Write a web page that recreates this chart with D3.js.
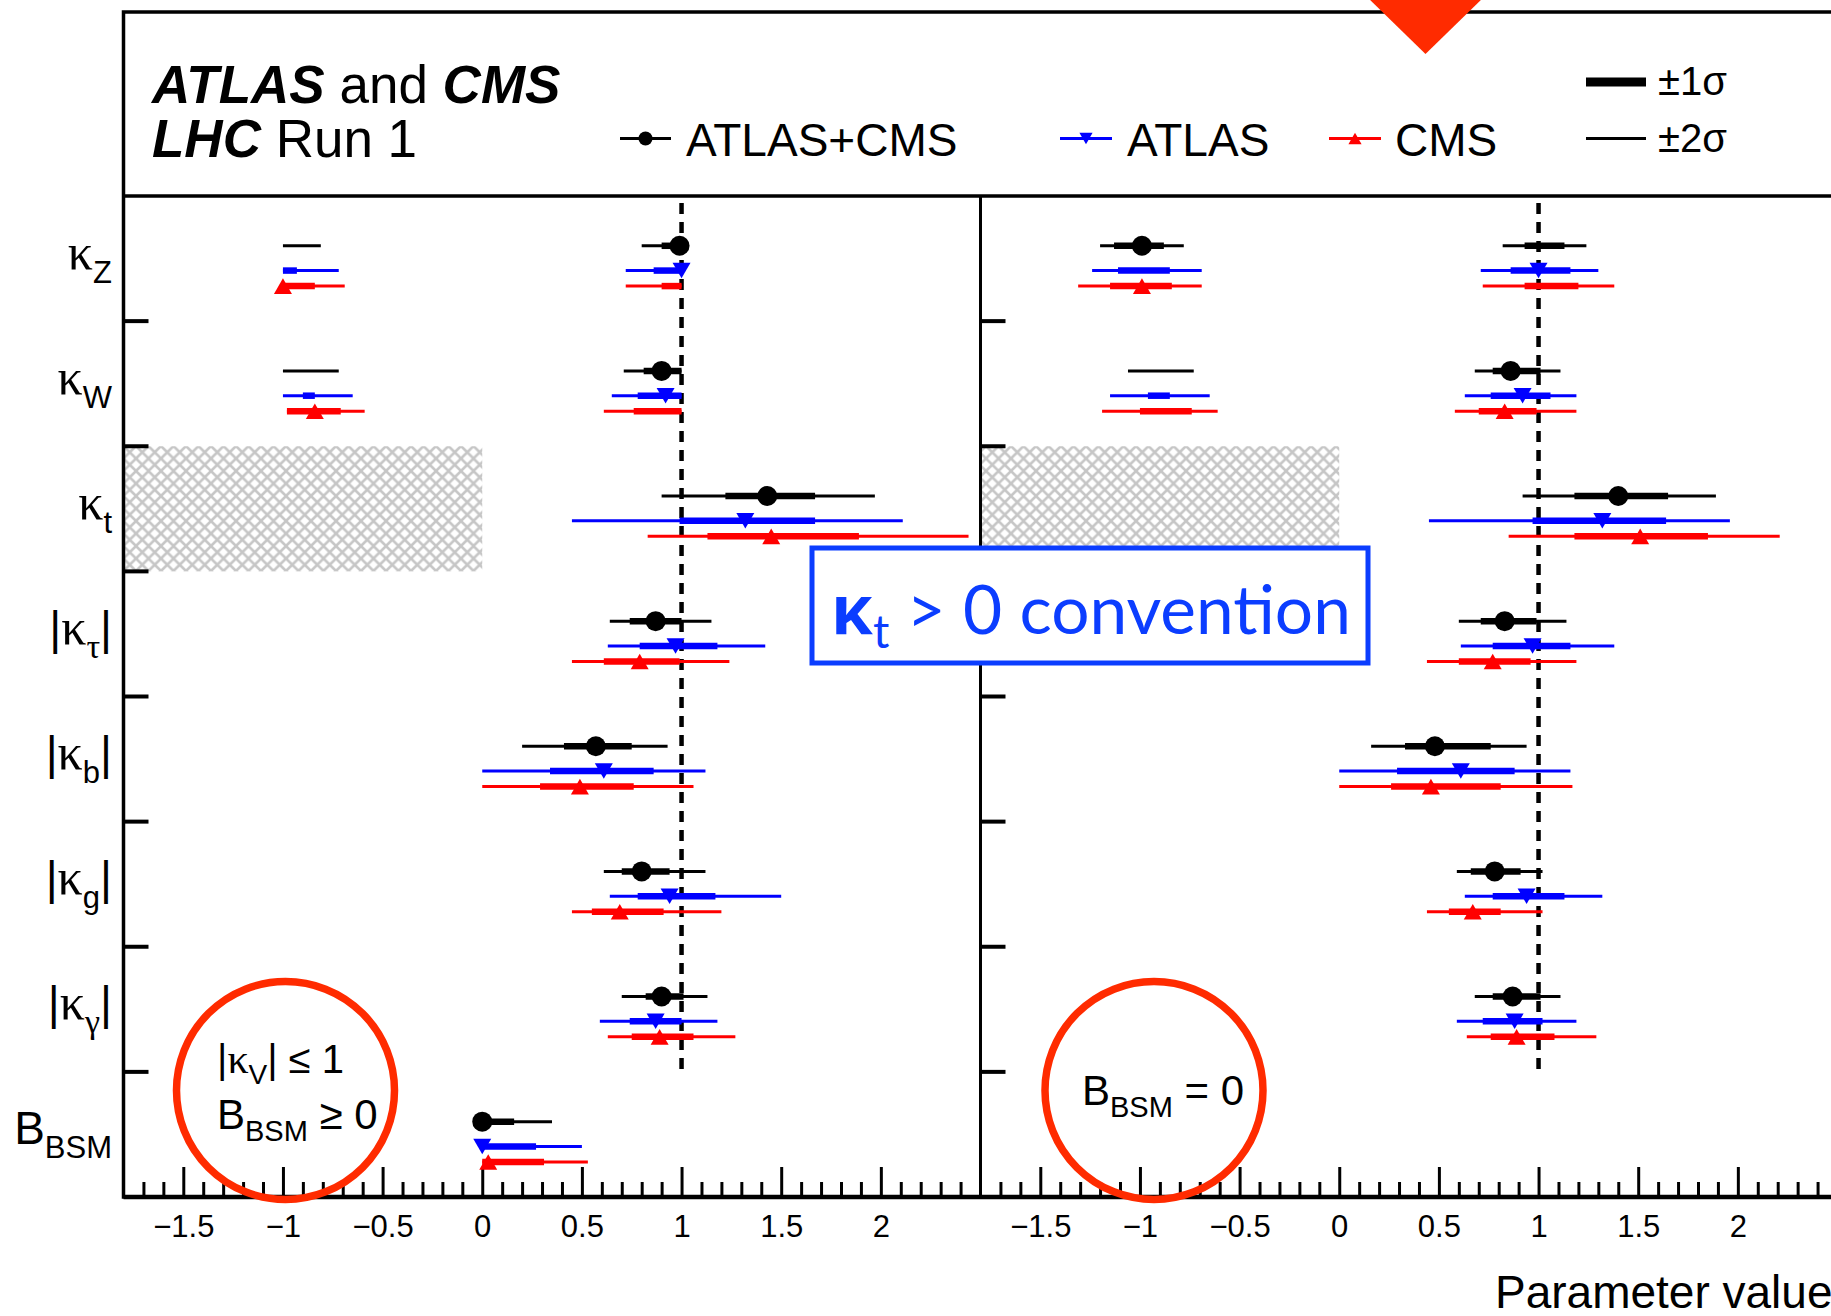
<!DOCTYPE html>
<html>
<head>
<meta charset="utf-8">
<script src="https://cdn.jsdelivr.net/npm/d3@7"></script>
<style>
  body { margin: 0; background: #fff; }
  svg { display: block; }
</style>
</head>
<body>
<div id="chart"></div>
<script>
// the coupling parameters, top to bottom
const rowIds  = ['kZ', 'kW', 'kt', 'ktau', 'kb', 'kg', 'kgam', 'BBSM'];
const rowMain = ['κ', 'κ', 'κ', 'κ', 'κ', 'κ', 'κ', 'B'];
const rowSub  = ['Z', 'W', 't', 'τ', 'b', 'g', 'γ', 'BSM'];
const rowAbs  = [false, false, false, true, true, true, true, false];

const seriesNames  = ['ATLAS+CMS', 'ATLAS', 'CMS'];
const seriesColors = ['#000000', '#0000ff', '#ff0000'];

// one entry per row: [best fit, 1 sigma intervals, 2 sigma intervals]
// left panel: |kV| <= 1, B_BSM >= 0
const leftComb = [
  [0.99, [[0.90, 1.00]], [[-1.00, -0.81], [0.80, 1.00]]],
  [0.90, [[0.81, 1.00]], [[-1.00, -0.72], [0.71, 1.00]]],
  [1.43, [[1.22, 1.67]], [[0.90, 1.97]]],
  [0.87, [[0.74, 1.00]], [[0.64, 1.15]]],
  [0.57, [[0.41, 0.75]], [[0.20, 0.93]]],
  [0.80, [[0.70, 0.94]], [[0.61, 1.12]]],
  [0.90, [[0.82, 1.01]], [[0.70, 1.13]]],
  [0.00, [[0.00, 0.16]], [[0.00, 0.35]]]
];
const leftAtlas = [
  [1.00, [[-1.00, -0.93], [0.86, 1.00]], [[-1.00, -0.72], [0.72, 1.00]]],
  [0.92, [[-0.90, -0.84], [0.78, 1.00]], [[-1.00, -0.65], [0.65, 1.00]]],
  [1.32, [[0.99, 1.67]], [[0.45, 2.11]]],
  [0.97, [[0.79, 1.18]], [[0.63, 1.42]]],
  [0.61, [[0.34, 0.86]], [[0.00, 1.12]]],
  [0.94, [[0.78, 1.17]], [[0.64, 1.50]]],
  [0.87, [[0.74, 1.00]], [[0.59, 1.18]]],
  [0.00, [[0.00, 0.27]], [[0.00, 0.50]]]
];
const leftCms = [
  [-1.00, [[-1.00, -0.84], [0.90, 1.00]], [[-1.00, -0.69], [0.72, 1.00]]],
  [-0.84, [[-0.98, -0.71], [0.76, 1.00]], [[-0.98, -0.59], [0.61, 1.00]]],
  [1.45, [[1.13, 1.89]], [[0.83, 2.44]]],
  [0.79, [[0.61, 0.99]], [[0.45, 1.24]]],
  [0.49, [[0.29, 0.76]], [[0.00, 1.06]]],
  [0.69, [[0.55, 0.91]], [[0.45, 1.20]]],
  [0.89, [[0.75, 1.06]], [[0.63, 1.27]]],
  [0.03, [[0.00, 0.31]], [[0.00, 0.53]]]
];

// right panel: B_BSM = 0
const rightComb = [
  [-0.99, [[-1.13, -0.88], [0.93, 1.13]], [[-1.20, -0.78], [0.82, 1.24]]],
  [0.86, [[0.77, 1.01]], [[-1.06, -0.73], [0.68, 1.11]]],
  [1.40, [[1.18, 1.65]], [[0.92, 1.89]]],
  [0.83, [[0.71, 0.99]], [[0.60, 1.14]]],
  [0.48, [[0.33, 0.76]], [[0.16, 0.94]]],
  [0.78, [[0.66, 0.91]], [[0.59, 1.02]]],
  [0.87, [[0.77, 1.01]], [[0.68, 1.11]]],
  null
];
const rightAtlas = [
  [1.00, [[-1.11, -0.85], [0.86, 1.16]], [[-1.24, -0.69], [0.71, 1.30]]],
  [0.92, [[-0.96, -0.85], [0.76, 1.06]], [[-1.15, -0.65], [0.63, 1.19]]],
  [1.32, [[0.97, 1.64]], [[0.45, 1.96]]],
  [0.97, [[0.77, 1.16]], [[0.61, 1.38]]],
  [0.61, [[0.29, 0.88]], [[0.00, 1.16]]],
  [0.94, [[0.77, 1.13]], [[0.63, 1.32]]],
  [0.88, [[0.72, 1.02]], [[0.59, 1.19]]],
  null
];
const rightCms = [
  [-0.99, [[-1.15, -0.84], [0.93, 1.20]], [[-1.31, -0.69], [0.72, 1.38]]],
  [0.83, [[-1.00, -0.74], [0.70, 0.99]], [[-1.19, -0.61], [0.58, 1.19]]],
  [1.51, [[1.18, 1.85]], [[0.85, 2.21]]],
  [0.77, [[0.60, 0.96]], [[0.44, 1.19]]],
  [0.46, [[0.26, 0.81]], [[0.00, 1.17]]],
  [0.67, [[0.55, 0.81]], [[0.44, 1.02]]],
  [0.89, [[0.76, 1.08]], [[0.64, 1.29]]],
  null
];

const majorTicks = [-1.5, -1, -0.5, 0, 0.5, 1, 1.5, 2];
const minorTicks = d3.range(-17, 25).map(d => d / 10).filter(d => !majorTicks.includes(d));

const sans = 'Liberation Sans, Arial, Helvetica, sans-serif';
const serif = 'Liberation Serif, Times New Roman, serif';
const annotRed = '#ff2b00';
const boxBlue = '#0b3dff';

const width = 1831, height = 1316;
const svg = d3.select('#chart').append('svg').attr('width', width).attr('height', height);

// frame geometry
const frameTop = 12, headBottom = 196, plotBottom = 1197;
const panelW = 857;
const panels = [
  { x0: 123.5, series: [leftComb, leftAtlas, leftCms] },
  { x0: 980.5, series: [rightComb, rightAtlas, rightCms] }
];

const yRow = d3.scaleBand().domain(rowIds).range([headBottom, plotBottom]);
const seriesOffset = [0.398, 0.596, 0.72];

// crosshatch for the excluded kt < 0 region
const defs = svg.append('defs');
const hs = 12.5;
const pat = defs.append('pattern').attr('id', 'hatch')
  .attr('patternUnits', 'userSpaceOnUse').attr('width', hs).attr('height', hs)
  .attr('x', 123.5).attr('y', 446);
pat.append('path')
  .attr('d', `M-3,-3L${hs + 3},${hs + 3}M${hs + 3},-3L-3,${hs + 3}`)
  .attr('stroke', '#c6c6c6').attr('stroke-width', 2.6).attr('fill', 'none');

const plotG = svg.append('g');

panels.forEach((p, pi) => {
  const x = d3.scaleLinear().domain([-1.8, 2.5]).range([p.x0, p.x0 + panelW]);
  const g = plotG.append('g');

  // hatched band
  g.append('rect')
    .attr('x', x(-1.8)).attr('y', yRow('kt'))
    .attr('width', x(0) - x(-1.8)).attr('height', yRow.bandwidth())
    .attr('fill', 'url(#hatch)');

  // SM expectation
  g.append('line')
    .attr('x1', x(1)).attr('x2', x(1))
    .attr('y1', headBottom + 7).attr('y2', yRow('BBSM'))
    .attr('stroke', '#000').attr('stroke-width', 4.5).attr('stroke-dasharray', '11,8');

  // x axis, major and minor ticks pointing up
  const axMinor = g.append('g').attr('transform', `translate(0,${plotBottom})`)
    .call(d3.axisBottom(x).tickValues(minorTicks).tickSize(-15).tickFormat(''));
  const axMajor = g.append('g').attr('transform', `translate(0,${plotBottom})`)
    .call(d3.axisBottom(x).tickValues(majorTicks).tickSize(-30).tickPadding(18)
      .tickFormat(d => (d < 0 ? '−' : '') + Math.abs(d)));
  [axMinor, axMajor].forEach(a => {
    a.select('.domain').remove();
    a.selectAll('line').attr('stroke-width', 3);
  });
  axMajor.selectAll('text').attr('font-family', sans).attr('font-size', 31).attr('fill', '#000');

  // y ticks at the row boundaries
  g.selectAll('.ytick').data(rowIds.slice(1)).join('line')
    .attr('x1', p.x0).attr('x2', p.x0 + 25)
    .attr('y1', d => yRow(d)).attr('y2', d => yRow(d))
    .attr('stroke', '#000').attr('stroke-width', 4);

  // the measurements
  p.series.forEach((rows, si) => {
    const col = seriesColors[si];
    rows.forEach((r, ri) => {
      if (r === null) return;
      const y = yRow(rowIds[ri]) + yRow.bandwidth() * seriesOffset[si];
      r[2].forEach(iv => {
        g.append('line').attr('x1', x(iv[0])).attr('x2', x(iv[1]))
          .attr('y1', y).attr('y2', y).attr('stroke', col).attr('stroke-width', 3);
      });
      r[1].forEach(iv => {
        g.append('line').attr('x1', x(iv[0])).attr('x2', x(iv[1]))
          .attr('y1', y).attr('y2', y).attr('stroke', col).attr('stroke-width', 6.5);
      });
      if (r[0] === null) return;
      if (si === 0) {
        g.append('circle').attr('cx', x(r[0])).attr('cy', y).attr('r', 10).attr('fill', col);
      } else {
        const down = si === 1;
        g.append('path')
          .attr('d', d3.symbol(d3.symbolTriangle, 140)())
          .attr('transform', `translate(${x(r[0])},${y + (down ? -2.6 : 2.6)})${down ? ' rotate(180)' : ''}`)
          .attr('fill', col);
      }
    });
  });
});

// row labels
const labelG = svg.append('g').attr('font-family', sans).attr('fill', '#000');
rowIds.forEach((id, i) => {
  const cy = yRow(id) + yRow.bandwidth() / 2;
  const t = labelG.append('text').attr('x', 112).attr('y', cy + 10)
    .attr('text-anchor', 'end').attr('font-size', 46);
  if (rowAbs[i]) t.append('tspan').text('|');
  t.append('tspan')
    .attr('font-family', rowMain[i] === 'κ' ? serif : sans)
    .attr('font-size', rowMain[i] === 'κ' ? 50 : 46)
    .text(rowMain[i]);
  const greek = rowSub[i] === 'τ' || rowSub[i] === 'γ';
  t.append('tspan').attr('font-size', greek ? 34 : 31).attr('dy', 14)
    .attr('font-family', greek ? serif : sans).text(rowSub[i]);
  if (rowAbs[i]) t.append('tspan').attr('dy', -14).text('|');
});

// frame
const frame = svg.append('g').attr('stroke', '#000').attr('fill', 'none');
frame.append('rect').attr('x', 123.5).attr('y', frameTop)
  .attr('width', 2 * panelW).attr('height', plotBottom - frameTop).attr('stroke-width', 3.5);
frame.append('line').attr('x1', 123.5).attr('x2', 123.5 + 2 * panelW)
  .attr('y1', headBottom).attr('y2', headBottom).attr('stroke-width', 3.5);
frame.append('line').attr('x1', 980.5).attr('x2', 980.5)
  .attr('y1', headBottom).attr('y2', plotBottom).attr('stroke-width', 3);
frame.append('line').attr('x1', 123.5).attr('x2', 123.5 + 2 * panelW)
  .attr('y1', plotBottom).attr('y2', plotBottom).attr('stroke-width', 4.5);

// header
const head = svg.append('g').attr('font-family', sans).attr('fill', '#000');
const h1 = head.append('text').attr('x', 152).attr('y', 103).attr('font-size', 53);
h1.append('tspan').attr('font-weight', 'bold').attr('font-style', 'italic').text('ATLAS');
h1.append('tspan').text(' and ');
h1.append('tspan').attr('font-weight', 'bold').attr('font-style', 'italic').text('CMS');
const h2 = head.append('text').attr('x', 152).attr('y', 157).attr('font-size', 53);
h2.append('tspan').attr('font-weight', 'bold').attr('font-style', 'italic').text('LHC');
h2.append('tspan').text(' Run 1');

// legend
const legPos = [[620, 671, 686], [1060, 1112, 1127], [1329, 1381, 1395]];
seriesNames.forEach((name, si) => {
  const [a, b, tx] = legPos[si];
  const ly = 138.5;
  head.append('line').attr('x1', a).attr('x2', b).attr('y1', ly).attr('y2', ly)
    .attr('stroke', seriesColors[si]).attr('stroke-width', 3);
  if (si === 0) {
    head.append('circle').attr('cx', (a + b) / 2).attr('cy', ly).attr('r', 7).attr('fill', seriesColors[si]);
  } else {
    const down = si === 1;
    head.append('path').attr('d', d3.symbol(d3.symbolTriangle, 75)())
      .attr('transform', `translate(${(a + b) / 2},${ly + (down ? -1.9 : 1.9)})${down ? ' rotate(180)' : ''}`)
      .attr('fill', seriesColors[si]);
  }
  head.append('text').attr('x', tx).attr('y', 156).attr('font-size', 46).text(name);
});
head.append('line').attr('x1', 1586).attr('x2', 1646).attr('y1', 82).attr('y2', 82)
  .attr('stroke', '#000').attr('stroke-width', 9);
head.append('line').attr('x1', 1586).attr('x2', 1646).attr('y1', 138.5).attr('y2', 138.5)
  .attr('stroke', '#000').attr('stroke-width', 3);
head.append('text').attr('x', 1658).attr('y', 95).attr('font-size', 40).text('±1σ');
head.append('text').attr('x', 1658).attr('y', 152).attr('font-size', 40).text('±2σ');

// axis title (runs off the right edge, as in the original crop)
svg.append('text').attr('x', 1495).attr('y', 1308)
  .attr('font-family', sans).attr('font-size', 46).text('Parameter value');

// annotations: red circles with the fit conditions
const ann = svg.append('g');
ann.append('circle').attr('cx', 285.5).attr('cy', 1090.5).attr('r', 109)
  .attr('fill', 'none').attr('stroke', annotRed).attr('stroke-width', 7.5);
ann.append('circle').attr('cx', 1154).attr('cy', 1090.5).attr('r', 109)
  .attr('fill', 'none').attr('stroke', annotRed).attr('stroke-width', 7.5);

const c1 = ann.append('text').attr('x', 217).attr('y', 1073).attr('font-family', sans).attr('font-size', 40);
c1.append('tspan').text('|');
c1.append('tspan').attr('font-family', serif).attr('font-size', 42).text('κ');
c1.append('tspan').attr('font-size', 28).attr('dy', 11).text('V');
c1.append('tspan').attr('dy', -11).text('| ≤ 1');
const c2 = ann.append('text').attr('x', 217).attr('y', 1129).attr('font-family', sans).attr('font-size', 42);
c2.append('tspan').text('B');
c2.append('tspan').attr('font-size', 29).attr('dy', 12).text('BSM');
c2.append('tspan').attr('dy', -12).text(' ≥ 0');
const c3 = ann.append('text').attr('x', 1082).attr('y', 1105).attr('font-family', sans).attr('font-size', 42);
c3.append('tspan').text('B');
c3.append('tspan').attr('font-size', 29).attr('dy', 12).text('BSM');
c3.append('tspan').attr('dy', -12).text(' = 0');

// kt > 0 convention box
ann.append('rect').attr('x', 812).attr('y', 548).attr('width', 556).attr('height', 115)
  .attr('fill', '#fff').attr('stroke', boxBlue).attr('stroke-width', 5);
const boxG = ann.append('g');
const bt = boxG.append('text').attr('x', 0).attr('y', 0)
  .attr('font-family', 'Lato, Open Sans, sans-serif').attr('font-size', 68).attr('fill', boxBlue);
bt.append('tspan').attr('font-family', 'Open Sans, DejaVu Sans, sans-serif').attr('font-weight', 'bold').text('κ');
bt.append('tspan').attr('font-size', 46).attr('dy', 14).text('t');
bt.append('tspan').attr('dy', -14).text(' > 0 convention');
const bw = bt.node().getBBox().width;
const bs = 520 / bw;
boxG.attr('transform', `translate(831,634) scale(${bs})`);

// big red marker at the top
ann.append('path')
  .attr('d', 'M1366,-4L1485,-4L1425.5,54Z')
  .attr('fill', annotRed);
</script>
</body>
</html>
